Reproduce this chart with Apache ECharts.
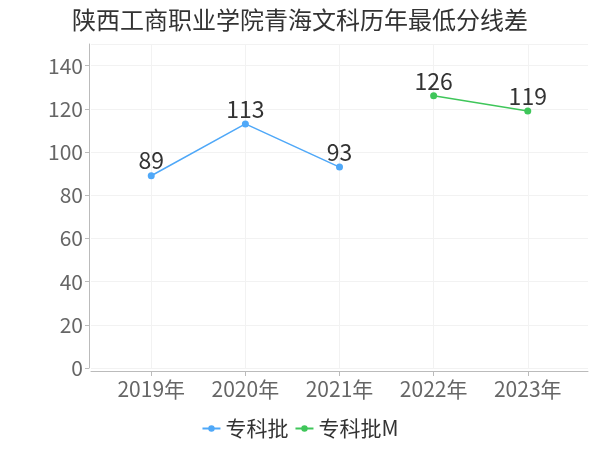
<!DOCTYPE html>
<html>
<head>
<meta charset="utf-8">
<script src="https://cdn.jsdelivr.net/npm/echarts@6/dist/echarts.min.js"></script>
<style>html,body{margin:0;padding:0;background:#fff}#c{width:600px;height:450px}</style>
</head>
<body>
<div id="c"></div>
<script>
var titleText = '陕西工商职业学院青海文科历年最低分线差';
var categories = ['2019年', '2020年', '2021年', '2022年', '2023年'];
var seriesNames = ['专科批', '专科批M'];
var seriesA = [89, 113, 93, null, null];
var seriesB = [null, null, null, 126, 119];
var yTicks = [0, 20, 40, 60, 80, 100, 120, 140];
var yMax = 150;

var FONT = '"Noto Sans CJK SC", sans-serif';
var idx = categories.map(function (c, i) { return i; });
function toPairs(arr) {
  var out = [];
  arr.forEach(function (v, i) { if (v !== null) out.push([i, v]); });
  return out;
}

var chart = echarts.init(document.getElementById('c'));
chart.setOption({
  backgroundColor: '#fff',
  animation: false,
  textStyle: { fontFamily: FONT },
  title: {
    text: titleText,
    left: 'center',
    top: 3,
    textStyle: { fontSize: 24, fontWeight: 'normal', color: '#333', fontFamily: FONT }
  },
  legend: {
    bottom: 6,
    left: 'center',
    itemWidth: 18,
    itemHeight: 8,
    itemGap: 6,
    textStyle: { fontSize: 21, color: '#333', fontFamily: FONT },
    data: seriesNames
  },
  grid: { left: 91, right: 12, top: 44, bottom: 82 },
  xAxis: {
    type: 'value',
    min: -0.64,
    max: 4.64,
    offset: 3,
    axisLine: { show: true, onZero: false, lineStyle: { color: '#bbb' } },
    axisTick: { show: true, customValues: idx, length: 5, lineStyle: { color: '#bbb' } },
    axisLabel: {
      customValues: idx,
      fontSize: 21,
      color: '#666',
      margin: 8,
      fontFamily: FONT,
      formatter: function (v) { return categories[Math.round(v)]; }
    },
    splitLine: { show: true, lineStyle: { color: '#f2f2f2' } }
  },
  yAxis: {
    type: 'value',
    min: 0,
    max: yMax,
    interval: 10,
    offset: 2,
    axisLine: { show: true, onZero: false, lineStyle: { color: '#bbb' } },
    axisTick: { show: true, customValues: yTicks, length: 4, lineStyle: { color: '#bbb' } },
    axisLabel: {
      customValues: yTicks,
      fontSize: 21,
      color: '#666',
      margin: 6,
      fontFamily: FONT
    },
    splitLine: { show: true, lineStyle: { color: '#f2f2f2' } }
  },
  series: [
    {
      name: seriesNames[0],
      type: 'line',
      data: toPairs(seriesA),
      symbol: 'circle',
      symbolSize: 7,
      itemStyle: { color: '#4fa8f8' },
      lineStyle: { width: 1.5, color: '#4fa8f8' },
      label: { show: true, position: 'top', distance: 2, offset: [0, 2], fontSize: 23, color: '#333', fontFamily: FONT,
        formatter: function (p) { return p.value[1]; } },
      markLine: {
        silent: true, symbol: 'none', label: { show: false },
        lineStyle: { color: '#f2f2f2', type: 'solid', width: 1 },
        data: [{ yAxis: yMax }]
      },
      z: 3
    },
    {
      name: seriesNames[1],
      type: 'line',
      data: toPairs(seriesB),
      symbol: 'circle',
      symbolSize: 7,
      itemStyle: { color: '#3fc65a' },
      lineStyle: { width: 1.5, color: '#3fc65a' },
      label: { show: true, position: 'top', distance: 2, offset: [0, 2], fontSize: 23, color: '#333', fontFamily: FONT,
        formatter: function (p) { return p.value[1]; } },
      z: 3
    }
  ]
});
</script>
</body>
</html>
